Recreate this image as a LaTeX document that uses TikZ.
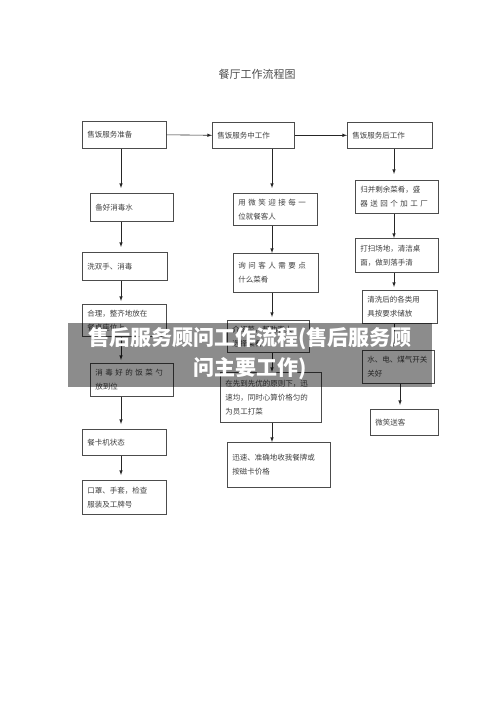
\documentclass[tikz,border=0pt]{standalone}
\usepackage{fontspec}
\setmainfont{Noto Sans CJK SC}
\usepackage{tikz}
\tikzstyle{stage} = [rectangle, anchor=north west, draw=black!70, line width=0.6pt, align=left, inner xsep=5pt, inner ysep=3pt, text=black!75, font=\fontsize{7.5}{14}\selectfont]
\tikzstyle{arrow} = [->, >=latex, line width=0.6pt, black!85]

\begin{document}
\begin{tikzpicture}[x=1pt, y=-1pt]
        \fill [white] (0,0) rectangle (500,708);
        \useasboundingbox (0,0) rectangle (500,708);
        \node (title) at (257,74) [text=black!70, font=\fontsize{11}{13}\selectfont] {餐厅工作流程图};

        % before serving
        \node (a1) at (82,121) [stage, text width=74pt, minimum height=27pt] {售饭服务准备};
        \node (a2) at (90,193) [stage, text width=73pt, minimum height=28pt] {备好消毒水};
        \node (a3) at (82,252) [stage, text width=75pt, minimum height=28pt] {洗双手、消毒};
        \node (a4) at (82,304) [stage, text width=74pt, minimum height=32pt] {合理，整齐地放在\\餐桌座位上};
        \node (a5) at (90,363) [stage, text width=73pt, minimum height=33pt] {消 毒 好 的 饭 菜 勺\\放到位};
        \node (a6) at (82,429) [stage, text width=74pt, minimum height=26pt] {餐卡机状态};
        \node (a7) at (82,480) [stage, text width=74pt, minimum height=34pt] {口罩、手套，检查\\服装及工牌号};

        % while serving
        \node (b1) at (212,122) [stage, text width=72pt, minimum height=26pt] {售饭服务中工作};
        \node (b2) at (233,193) [stage, text width=74pt, minimum height=32pt] {用 微 笑 迎 接 每 一\\位就餐客人};
        \node (b3) at (233,253) [stage, text width=75pt, minimum height=39pt] {询 问 客 人 需 要 点\\什么菜肴};
        \node (b4) at (227,320) [stage, text width=72pt, minimum height=32pt] {介绍菜，帮助客人\\选择菜肴};
        \node (b5) at (220,372) [stage, text width=91pt, minimum height=50pt] {在先到先优的原则下，迅\\速均，同时心算价格匀的\\为员工打菜};
        \node (b6) at (227,442) [stage, text width=93pt, minimum height=45pt] {迅速、准确地收我餐牌或\\按磁卡价格\\[12pt]};

        % after serving
        \node (c1) at (347,122) [stage, text width=75pt, minimum height=26pt] {售饭服务后工作};
        \node (c2) at (355,180) [stage, text width=73pt, minimum height=33pt] {归并剩余菜肴，盛\\器 送 回 个 加 工 厂};
        \node (c3) at (355,238) [stage, text width=73pt, minimum height=34pt] {打扫场地，清洁桌\\面，做到落手清};
        \node (c4) at (362,290) [stage, text width=65pt, minimum height=33pt] {清洗后的各类用\\具按要求储放};
        \node (c5) at (362,350) [stage, text width=62pt, minimum height=33pt] {水、电、煤气开关\\关好};
        \node (c6) at (370,409) [stage, text width=58pt, minimum height=26pt] {微笑送客};

        \coordinate (cola) at (121,0);
        \coordinate (colb) at (272,0);
        \coordinate (colc) at (394,0);
        \coordinate (cold) at (400,0);

        \draw [arrow] (a1.east) -- (b1.west);
        \draw [arrow] (b1.east) -- (c1.west);

        \draw [arrow, shorten >=5pt] (a1.south -| cola) -- (a2.north -| cola);
        \draw [arrow, shorten >=5pt] (a2.south -| cola) -- (a3.north -| cola);
        \draw [arrow, shorten >=3pt] (a3.south -| cola) -- (a4.north -| cola);
        \draw [arrow, shorten >=3pt] (a4.south -| cola) -- (a5.north -| cola);
        \draw [arrow, shorten >=5pt] (a5.south -| cola) -- (a6.north -| cola);
        \draw [arrow, shorten >=5pt] (a6.south -| cola) -- (a7.north -| cola);

        \draw [arrow, shorten >=5pt] (b1.south -| colb) -- (b2.north -| colb);
        \draw [arrow] (b2.south -| colb) -- (b3.north -| colb);
        \draw [arrow, shorten >=3pt] (b3.south -| colb) -- (b4.north -| colb);
        \draw [arrow] (b4.south -| colb) -- (b5.north -| colb);
        \draw [arrow] (b5.south -| colb) -- (b6.north -| colb);

        \draw [arrow, shorten >=6pt] (c1.south -| colc) -- (c2.north -| colc);
        \draw [arrow] (c2.south -| colc) -- (c3.north -| colc);
        \draw [arrow, shorten >=3pt] (c3.south -| colc) -- (c4.north -| colc);
        \draw [arrow, shorten >=3pt] (c4.south -| colc) -- (c5.north -| colc);
        \draw [arrow, shorten >=4pt] (c5.south -| cold) -- (c6.north -| cold);

        % overlay caption
        \fill [black, opacity=0.45] (68,323) rectangle (432,387);
        \node (banner) at (250,354) [align=center, text=white, font=\bfseries\fontsize{21}{30}\selectfont] {售后服务顾问工作流程(售后服务顾\\问主要工作)};
\end{tikzpicture}
\end{document}
